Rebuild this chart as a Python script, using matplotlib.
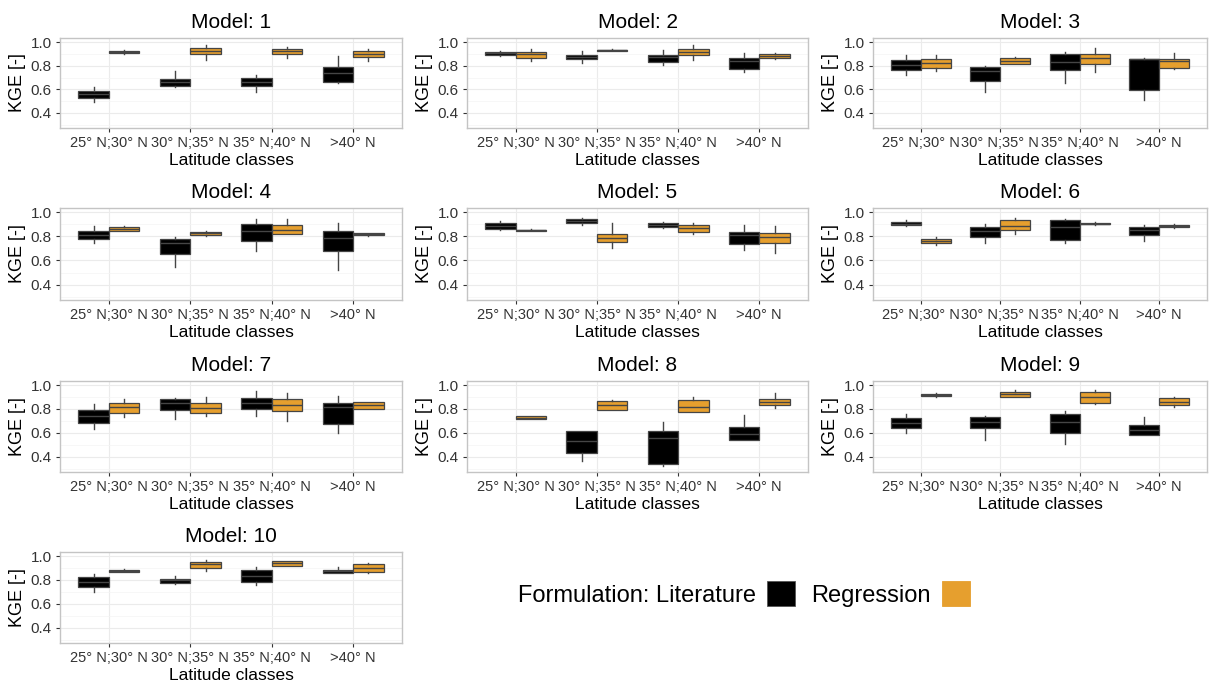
import numpy as np
import matplotlib
matplotlib.use("Agg")
import matplotlib.pyplot as plt
from matplotlib.patches import Patch
from matplotlib.ticker import MultipleLocator

plt.rcParams['font.family'] = ['Liberation Sans', 'DejaVu Sans']

nan = np.nan

# latitude classes (x axis) and model names
categories = ["25° N;30° N", "30° N;35° N", "35° N;40° N", ">40° N"]
models = [str(i) for i in range(1, 11)]

# box stats per model (rows) and latitude class (columns)
# Literature formulation
lit_lo = [
    [0.495, 0.620, 0.580, 0.650],
    [0.885, 0.826, 0.807, 0.750],
    [0.725, 0.574, 0.655, 0.510],
    [0.742, 0.550, 0.678, 0.518],
    [0.850, 0.892, 0.870, 0.685],
    [0.882, 0.748, 0.748, 0.762],
    [0.634, 0.713, 0.738, 0.600],
    [nan, 0.366, 0.324, 0.544],
    [0.598, 0.539, 0.511, 0.581],
    [0.699, 0.766, 0.760, 0.859],
]
lit_q1 = [
    [0.526, 0.630, 0.627, 0.658],
    [0.888, 0.854, 0.835, 0.776],
    [0.765, 0.670, 0.765, 0.594],
    [0.779, 0.650, 0.762, 0.678],
    [0.864, 0.906, 0.878, 0.736],
    [0.891, 0.790, 0.770, 0.810],
    [0.685, 0.789, 0.803, 0.676],
    [nan, 0.431, 0.344, 0.544],
    [0.637, 0.645, 0.603, 0.581],
    [0.738, 0.775, 0.780, 0.859],
]
lit_med = [
    [0.560, 0.663, 0.663, 0.734],
    [0.905, 0.874, 0.877, 0.840],
    [0.807, 0.756, 0.829, 0.854],
    [0.812, 0.742, 0.840, 0.784],
    [0.886, 0.926, 0.892, 0.807],
    [0.905, 0.840, 0.877, 0.849],
    [0.741, 0.854, 0.854, 0.817],
    [nan, 0.535, 0.555, 0.592],
    [0.682, 0.693, 0.693, 0.623],
    [0.780, 0.797, 0.837, 0.873],
]
lit_q3 = [
    [0.588, 0.691, 0.700, 0.792],
    [0.919, 0.888, 0.890, 0.868],
    [0.849, 0.790, 0.900, 0.860],
    [0.846, 0.779, 0.902, 0.846],
    [0.912, 0.940, 0.906, 0.835],
    [0.922, 0.877, 0.933, 0.874],
    [0.789, 0.887, 0.893, 0.851],
    [nan, 0.614, 0.614, 0.648],
    [0.723, 0.737, 0.757, 0.668],
    [0.823, 0.811, 0.887, 0.887],
]
lit_hi = [
    [0.616, 0.756, 0.720, 0.882],
    [0.920, 0.924, 0.930, 0.910],
    [0.888, 0.795, 0.916, 0.862],
    [0.882, 0.795, 0.944, 0.908],
    [0.926, 0.955, 0.915, 0.892],
    [0.933, 0.902, 0.944, 0.896],
    [0.845, 0.890, 0.949, 0.910],
    [nan, 0.620, 0.690, 0.752],
    [0.757, 0.743, 0.785, 0.729],
    [0.851, 0.837, 0.910, 0.910],
]

# Regression formulation
reg_lo = [
    [0.900, 0.849, 0.863, 0.840],
    [0.840, 0.920, 0.850, 0.860],
    [0.756, 0.810, 0.748, 0.770],
    [0.840, 0.805, 0.818, 0.805],
    [0.840, 0.707, 0.815, 0.665],
    [0.728, 0.818, 0.895, 0.870],
    [0.732, 0.738, 0.696, 0.797],
    [0.715, 0.789, 0.775, 0.811],
    [0.900, 0.897, 0.838, 0.813],
    [0.865, 0.873, 0.915, 0.859],
]
reg_q1 = [
    [0.905, 0.896, 0.902, 0.877],
    [0.863, 0.924, 0.891, 0.863],
    [0.784, 0.818, 0.818, 0.784],
    [0.846, 0.812, 0.818, 0.810],
    [0.844, 0.750, 0.835, 0.744],
    [0.742, 0.849, 0.900, 0.874],
    [0.766, 0.766, 0.783, 0.797],
    [0.718, 0.789, 0.775, 0.831],
    [0.905, 0.897, 0.846, 0.832],
    [0.868, 0.901, 0.921, 0.868],
]
reg_med = [
    [0.916, 0.924, 0.924, 0.900],
    [0.896, 0.930, 0.919, 0.880],
    [0.826, 0.843, 0.863, 0.840],
    [0.860, 0.826, 0.854, 0.818],
    [0.850, 0.784, 0.869, 0.793],
    [0.759, 0.882, 0.905, 0.885],
    [0.817, 0.811, 0.831, 0.831],
    [0.728, 0.831, 0.817, 0.859],
    [0.916, 0.922, 0.897, 0.860],
    [0.879, 0.930, 0.940, 0.901],
]
reg_q3 = [
    [0.924, 0.952, 0.944, 0.921],
    [0.916, 0.936, 0.938, 0.896],
    [0.860, 0.868, 0.900, 0.860],
    [0.874, 0.838, 0.896, 0.826],
    [0.855, 0.821, 0.892, 0.827],
    [0.776, 0.938, 0.910, 0.896],
    [0.854, 0.854, 0.882, 0.859],
    [0.738, 0.865, 0.873, 0.882],
    [0.925, 0.944, 0.939, 0.888],
    [0.887, 0.949, 0.958, 0.935],
]
reg_hi = [
    [0.930, 0.972, 0.960, 0.938],
    [0.944, 0.940, 0.975, 0.905],
    [0.888, 0.870, 0.952, 0.910],
    [0.888, 0.840, 0.944, 0.828],
    [0.858, 0.912, 0.906, 0.884],
    [0.795, 0.952, 0.915, 0.900],
    [0.882, 0.901, 0.930, 0.862],
    [0.742, 0.873, 0.901, 0.930],
    [0.930, 0.961, 0.958, 0.897],
    [0.890, 0.963, 0.962, 0.944],
]

LIT_COLOR = "#000000"
REG_COLOR = "#E69F2E"
EDGE = "#454545"

W, H = 1210, 685
fig = plt.figure(figsize=(W / 100, H / 100), dpi=100)

# pixel boxes of the panels (left, right) and (top, bottom)
col_px = [(60, 402), (467, 808), (873, 1207)]
row_px = [(38, 128), (208, 300), (381, 472), (552, 643)]


def stats_list(lo, q1, med, q3, hi, m):
    out = []
    for c in range(len(categories)):
        out.append(dict(whislo=lo[m][c], q1=q1[m][c], med=med[m][c],
                        q3=q3[m][c], whishi=hi[m][c], fliers=[]))
    return out


xpos = np.arange(1, len(categories) + 1)
bw = 0.375

for m, name in enumerate(models):
    r, c = divmod(m, 3)
    l, rr = col_px[c]
    t, b = row_px[r]
    ax = fig.add_axes([l / W, 1 - b / H, (rr - l) / W, (b - t) / H])

    for stats, offs, color in [
        (stats_list(lit_lo, lit_q1, lit_med, lit_q3, lit_hi, m), -bw / 2, LIT_COLOR),
        (stats_list(reg_lo, reg_q1, reg_med, reg_q3, reg_hi, m), bw / 2, REG_COLOR),
    ]:
        keep = [i for i, s in enumerate(stats) if not np.isnan(s["med"])]
        ax.bxp([stats[i] for i in keep], positions=xpos[keep] + offs, widths=bw,
               patch_artist=True, showfliers=False, showcaps=False,
               boxprops=dict(facecolor=color, edgecolor=EDGE, linewidth=0.9),
               medianprops=dict(color=EDGE, linewidth=1.0),
               whiskerprops=dict(color=EDGE, linewidth=1.0),
               manage_ticks=False, zorder=3)

    ax.set_xlim(0.4, 4.6)
    ax.set_ylim(0.273, 1.034)
    ax.set_xticks(xpos)
    ax.set_xticklabels(categories, fontsize=10.5, color="#333333")
    ax.yaxis.set_minor_locator(MultipleLocator(0.1))
    ax.set_yticks([0.4, 0.6, 0.8, 1.0])
    ax.set_yticklabels(["0.4", "0.6", "0.8", "1.0"], fontsize=11, color="#333333")
    ax.grid(which="major", color="#ebebeb", linewidth=0.8, zorder=0)
    ax.grid(which="minor", axis="y", color="#f4f4f4", linewidth=0.5, zorder=0)
    ax.set_axisbelow(True)
    ax.tick_params(which="major", length=3, width=0.8, color="#333333", pad=3)
    ax.tick_params(which="minor", length=0)
    for sp in ax.spines.values():
        sp.set_color("#c4c4c4")
        sp.set_linewidth(1.0)
    ax.set_title("Model: " + name, fontsize=15, pad=7)
    ax.set_xlabel("Latitude classes", fontsize=12.5, labelpad=2)
    ax.set_ylabel("KGE [-]", fontsize=13, labelpad=3)

# legend: labels in front of the keys, title folded into the first label
handles = [Patch(facecolor=LIT_COLOR, edgecolor="#555555", linewidth=0.6),
           Patch(facecolor=REG_COLOR, edgecolor=REG_COLOR, linewidth=0.6)]
fig.legend(handles, ["Formulation: Literature", "Regression"], loc="center left",
           bbox_to_anchor=(518 / W, 1 - 594 / H), ncol=2, frameon=False,
           markerfirst=False, fontsize=17, handlelength=1.2, handleheight=1.2,
           handletextpad=0.45, columnspacing=0.7, borderpad=0, borderaxespad=0)

fig.savefig("out.png", dpi=100)
